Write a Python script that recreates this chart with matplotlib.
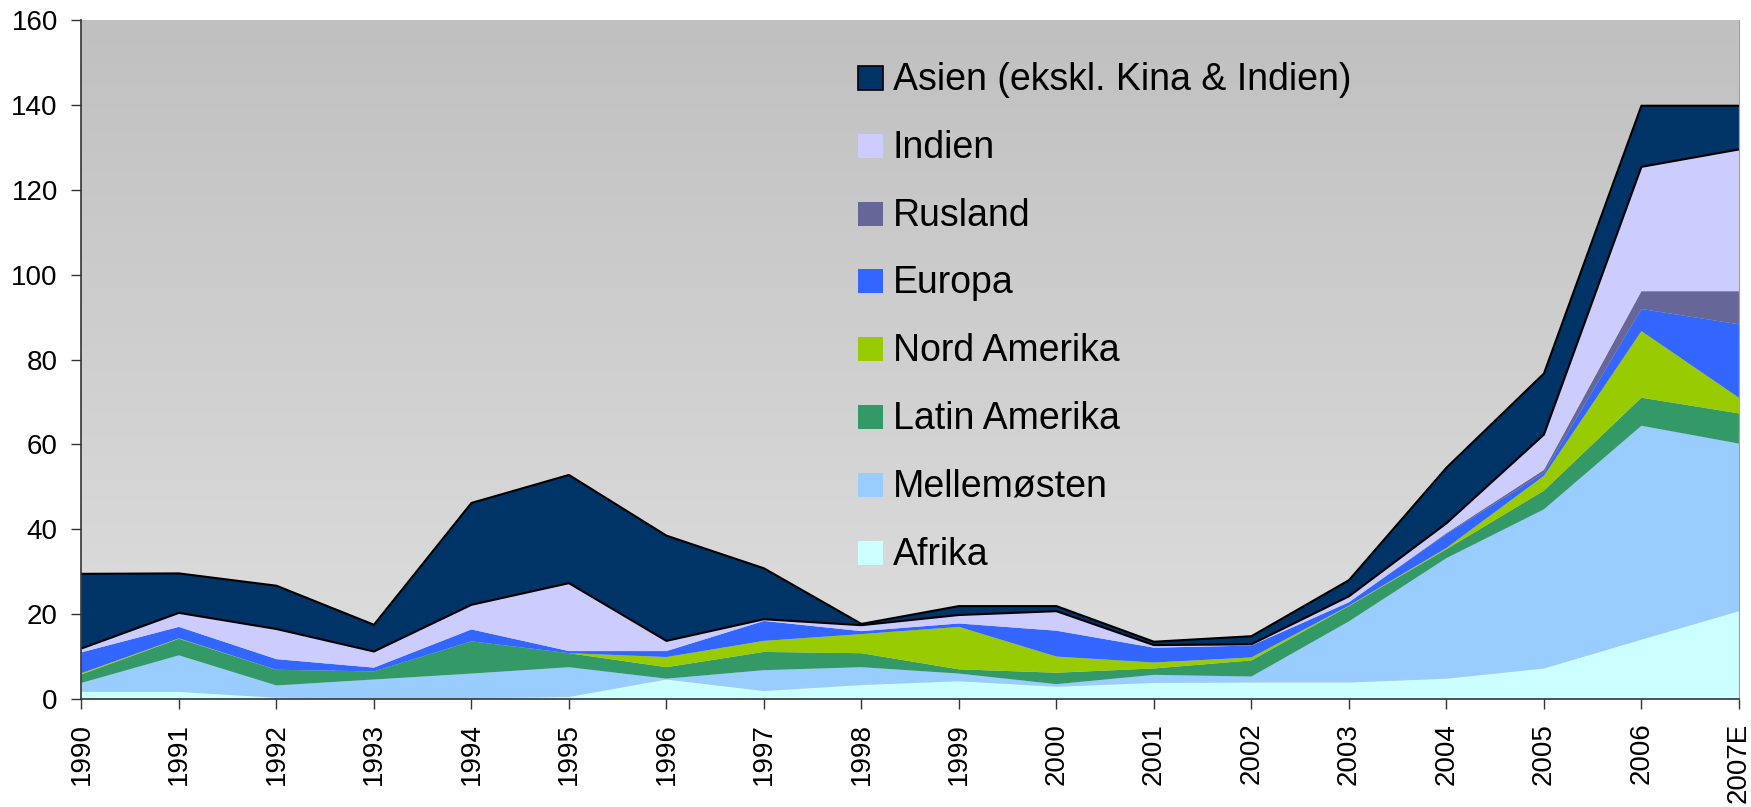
import numpy as np
import matplotlib
matplotlib.use('Agg')
import matplotlib.pyplot as plt
from matplotlib.patches import Rectangle
from matplotlib.colors import LinearSegmentedColormap

# stacked area chart, regions from bottom to top

years = ['1990', '1991', '1992', '1993', '1994', '1995', '1996', '1997', '1998',
         '1999', '2000', '2001', '2002', '2003', '2004', '2005', '2006', '2007E']

afrika      = [1.7, 1.7, 0.3, 0.1, 0.1, 0.5, 4.6, 1.9, 3.3, 4.2, 2.9, 3.8, 3.9, 3.9, 4.8, 7.2, 14.0, 20.7]
mellemosten = [2.1, 8.6, 2.9, 4.5, 5.9, 7.0, 0.2, 4.9, 4.2, 1.8, 0.6, 1.9, 1.4, 14.4, 28.4, 37.5, 50.4, 39.5]
latin       = [2.0, 3.9, 3.7, 1.9, 7.6, 3.3, 2.7, 4.3, 3.3, 1.0, 2.7, 1.5, 3.8, 3.6, 2.1, 4.4, 6.6, 7.1]
nord        = [0.3, 0.1, 0.0, 0.0, 0.0, 0.0, 2.4, 2.6, 4.5, 10.0, 3.8, 1.4, 0.7, 0.1, 0.3, 3.5, 15.7, 3.7]
europa      = [4.9, 2.7, 2.5, 0.9, 2.8, 0.5, 1.4, 4.7, 0.7, 0.8, 6.1, 3.5, 2.8, 0.8, 3.3, 0.7, 5.2, 17.3]
rusland     = [0.0, 0.0, 0.0, 0.0, 0.0, 0.0, 0.0, 0.0, 0.0, 0.0, 0.0, 0.0, 0.0, 0.0, 0.2, 0.7, 4.2, 7.8]
indien      = [0.9, 3.3, 7.1, 3.8, 5.8, 16.0, 2.4, 0.4, 1.4, 2.0, 4.6, 0.6, 0.3, 1.4, 2.3, 8.3, 29.3, 33.4]
asien       = [17.6, 9.3, 10.2, 6.3, 24.0, 25.5, 24.8, 12.0, 0.3, 2.1, 1.2, 0.8, 1.9, 3.8, 13.1, 14.4, 14.4, 10.3]

labels = ['Afrika', 'Mellemøsten', 'Latin Amerika', 'Nord Amerika', 'Europa',
          'Rusland', 'Indien', 'Asien (ekskl. Kina & Indien)']
colors = ['#ccffff', '#99ccff', '#339966', '#99cc00', '#3366ff',
          '#666699', '#ccccff', '#003366']

yticks = [0, 20, 40, 60, 80, 100, 120, 140, 160]

plt.rcParams['font.family'] = ['Liberation Sans', 'DejaVu Sans']

fig = plt.figure(figsize=(17.51, 8.07), dpi=100)
ax = fig.add_axes([0.0465, 0.1338, 0.9466, 0.8414])

x = np.arange(len(years))
series = [afrika, mellemosten, latin, nord, europa, rusland, indien, asien]

# grey gradient behind the plot
grad = np.linspace(0, 1, 256).reshape(-1, 1)
bg = LinearSegmentedColormap.from_list('bg', ['#dfdfdf', '#c0c0c0'])
ax.imshow(grad, extent=[x[0], x[-1], 0, 160], aspect='auto', cmap=bg,
          origin='lower', zorder=0)

ax.stackplot(x, series, colors=colors, linewidth=0, zorder=1)
cum = np.cumsum(series, axis=0)
ax.plot(x, cum[-1], color='black', lw=1.5, zorder=2)
ax.plot(x, cum[-2], color='black', lw=1.5, zorder=2)

ax.set_xlim(x[0], x[-1])
ax.set_ylim(0, 160)
ax.set_xticks(x)
ax.set_xticklabels(years, rotation=90, fontsize=20)
ax.set_yticks(yticks)
ax.set_yticklabels([str(v) for v in yticks], fontsize=20)
ax.tick_params(axis='both', direction='out', length=7, width=1, pad=10, color='#333333')

ax.spines['top'].set_visible(False)
ax.spines['right'].set_color('#a0a0a0')
ax.spines['left'].set_color('#333333')
ax.spines['bottom'].set_color('#333333')
ax.spines['left'].set_linewidth(1.2)
ax.spines['bottom'].set_linewidth(1.2)

# legend drawn by hand, top entry first
lx, tx = 0.4685, 0.4896
base0, step = 0.8969, 0.09985
sw, sh = 0.0151, 0.0353
for i in range(len(labels)):
    k = len(labels) - 1 - i
    yb = base0 - i * step
    ec = 'black' if k == len(labels) - 1 else 'none'
    ax.add_patch(Rectangle((lx, yb), sw, sh, transform=ax.transAxes,
                           facecolor=colors[k], edgecolor=ec, lw=1.2, zorder=3))
    ax.text(tx, yb, labels[k], transform=ax.transAxes, fontsize=27,
            va='baseline', ha='left', zorder=3)

fig.savefig('out.png', dpi=100)
